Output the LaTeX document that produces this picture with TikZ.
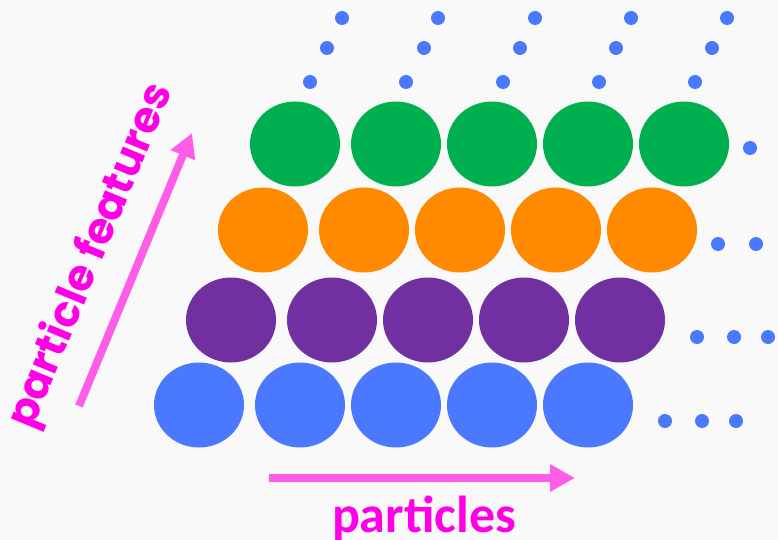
\documentclass[tikz,border=0pt]{standalone}
\usepackage{fontspec}
\setmainfont{Carlito}
\newfontfamily\popfont{Poppins}
\usetikzlibrary{shapes.geometric,arrows.meta}
\definecolor{bgc}{HTML}{F9F9F9}
\definecolor{cgreen}{HTML}{00B050}
\definecolor{corange}{HTML}{FF8A00}
\definecolor{cpurple}{HTML}{7030A0}
\definecolor{cblue}{HTML}{4A78FF}
\definecolor{ctext}{HTML}{FF00E6}
\definecolor{carrow}{HTML}{FF5CE8}
\tikzset{
  ball/.style={ellipse, inner sep=0pt, minimum width=90pt, minimum height=85pt},
  dotc/.style={circle, inner sep=0pt, minimum size=14pt, fill=cblue},
  bigarrow/.style={draw=carrow, line width=8pt, -{Triangle[length=25pt,width=26pt]}},
  lbl/.style={text=ctext, inner sep=0pt},
}
\begin{document}
\begin{tikzpicture}[x=1pt,y=-1pt]
\fill[bgc] (0,0) rectangle (778,540);
\useasboundingbox (0,0) rectangle (778,540);
% green row
\foreach \x [count=\i] in {295,396,492,588,684} {
  \node[ball, fill=cgreen] (g\i) at (\x,144) {};
}
% orange row
\foreach \x [count=\i] in {263,364,460,556,652} {
  \node[ball, fill=corange] (o\i) at (\x,230) {};
}
% purple row
\foreach \x [count=\i] in {231,332,428,524,620} {
  \node[ball, fill=cpurple] (p\i) at (\x,320) {};
}
% blue row
\foreach \x [count=\i] in {199,300,396,492,588} {
  \node[ball, fill=cblue] (b\i) at (\x,405) {};
}
% dots above
\foreach \x [count=\i] in {310,406,503,599,695} { \node[dotc] (ta\i) at (\x,82) {}; }
\foreach \x [count=\i] in {327,424,520,616,712} { \node[dotc] (tb\i) at (\x,48) {}; }
\foreach \x [count=\i] in {342,438,535,631,727} { \node[dotc] (tc\i) at (\x,18) {}; }
% dots right
\node[dotc] (rg1) at (750,148) {};
\node[dotc] (ro1) at (718,244) {};
\node[dotc] (ro2) at (756,244) {};
\node[dotc] (rp1) at (697,337) {};
\node[dotc] (rp2) at (734,337) {};
\node[dotc] (rp3) at (768,337) {};
\node[dotc] (rb1) at (665,421) {};
\node[dotc] (rb2) at (702,421) {};
\node[dotc] (rb3) at (736,421) {};
% arrows
\coordinate (hA) at (269,478);
\coordinate (hB) at (575,478);
\draw[bigarrow] (hA) -- (hB);
\coordinate (vA) at (79,406);
\coordinate (vB) at (192,133);
\draw[bigarrow, -{Triangle[length=24pt,width=25pt]}] (vA) -- (vB);
% labels
\node[lbl, font=\fontsize{52}{60}\selectfont\bfseries, anchor=base] (lp) at (424,532) {particles};
\node[lbl, font=\fontsize{43}{50}\selectfont\popfont\bfseries, rotate=67.5] (lf) at (92,256) {particle features};
\end{tikzpicture}
\end{document}
